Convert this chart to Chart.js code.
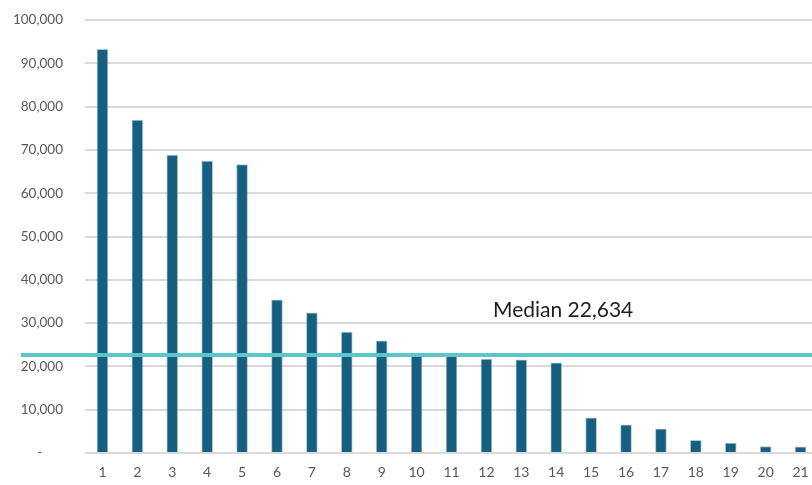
<!DOCTYPE html>
<html>
<head>
<meta charset="utf-8">
<script src="https://cdn.jsdelivr.net/npm/chart.js@4/dist/chart.umd.min.js"></script>
<style>
  html, body { margin: 0; padding: 0; background: #ffffff; overflow: hidden; }
  #wrap { width: 812px; height: 485px; overflow: hidden; position: relative; }
  canvas { display: block; }
</style>
</head>
<body>
<div id="wrap"><canvas id="chart" width="819" height="485"></canvas></div>
<script>
// Ranked values, one per category
const categories = ['1','2','3','4','5','6','7','8','9','10','11','12','13','14','15','16','17','18','19','20','21'];
const values = [93200, 76900, 68800, 67400, 66600, 35400, 32400, 27900, 25900, 23100, 22500, 21700, 21500, 20800, 8100, 6500, 5600, 2900, 2300, 1500, 1400];
const medianValue = 22634;
const medianLabel = 'Median 22,634';
const yTicks = [0, 10000, 20000, 30000, 40000, 50000, 60000, 70000, 80000, 90000, 100000];

const FONT = 'Lato, "Open Sans", "DejaVu Sans", sans-serif';

// Horizontal median rule plus its caption
const medianPlugin = {
  id: 'medianLine',
  afterDatasetsDraw(chart) {
    const { ctx, scales: { x, y } } = chart;
    const py = y.getPixelForValue(medianValue);
    ctx.save();
    ctx.strokeStyle = '#5bc6cc';
    ctx.lineWidth = 4;
    ctx.beginPath();
    ctx.moveTo(21, py);
    ctx.lineTo(chart.width, py);
    ctx.stroke();
    ctx.fillStyle = '#1f1f1f';
    ctx.font = '21px ' + FONT;
    ctx.textAlign = 'left';
    ctx.textBaseline = 'alphabetic';
    ctx.fillText(medianLabel, x.left + 408, py - 38);
    ctx.restore();
  }
};

new Chart(document.getElementById('chart'), {
  type: 'bar',
  data: {
    labels: categories,
    datasets: [{
      data: values,
      backgroundColor: '#165f81',
      borderColor: 'rgba(120,160,185,0.6)',
      borderWidth: { top: 1, left: 1, right: 1, bottom: 0 },
      barThickness: 11
    }]
  },
  options: {
    responsive: false,
    devicePixelRatio: 1,
    animation: false,
    layout: { padding: { top: 20, right: 1, left: 0, bottom: 0 } },
    plugins: {
      legend: { display: false },
      tooltip: { enabled: false }
    },
    scales: {
      x: {
        offset: true,
        grid: { display: false, drawTicks: false },
        border: { display: false },
        ticks: {
          color: '#595959',
          font: { family: FONT, size: 14 },
          padding: 11,
          maxRotation: 0,
          autoSkip: false
        },
        afterFit(scale) { scale.height = 32; scale.paddingLeft = 0; scale.paddingRight = 0; }
      },
      y: {
        min: 0,
        max: 100000,
        grid: { color: '#d9d9d9', lineWidth: 2, drawTicks: false },
        border: { display: false },
        afterBuildTicks(scale) { scale.ticks = yTicks.map(v => ({ value: v })); },
        ticks: {
          color: '#595959',
          font: { family: FONT, size: 13.5 },
          padding: 22,
          callback(v) { return v === 0 ? '-      ' : v.toLocaleString('en-US'); }
        },
        afterFit(scale) { scale.width = 85; scale.paddingTop = 0; scale.paddingBottom = 0; }
      }
    }
  },
  plugins: [medianPlugin]
});
</script>
</body>
</html>
